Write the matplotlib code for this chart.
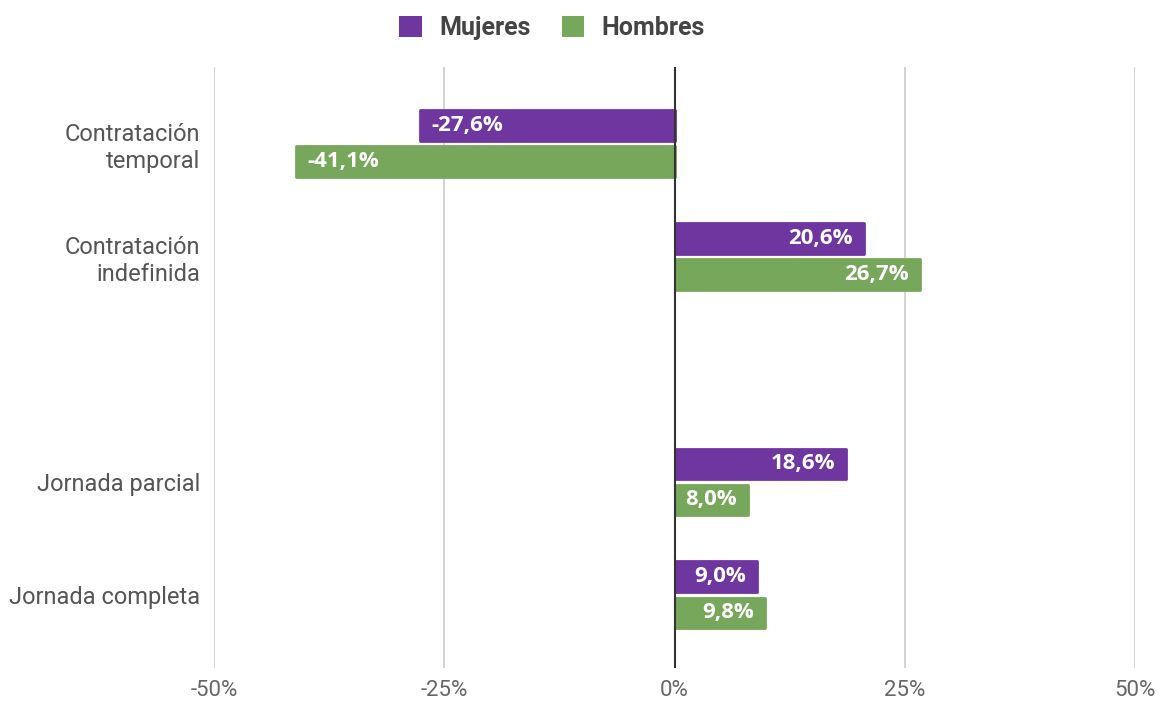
import matplotlib.pyplot as plt
from matplotlib.patches import Patch

# data
categorias = ['Contratación\ntemporal', 'Contratación\nindefinida', '', 'Jornada parcial', 'Jornada completa']
mujeres = [-27.6, 20.6, None, 18.6, 9.0]
hombres = [-41.1, 26.7, None, 8.0, 9.8]
ticks = [-50, -25, 0, 25, 50]

c_muj = '#6f36a0'
c_hom = '#76a75a'

plt.rcParams['font.family'] = ['Roboto', 'DejaVu Sans']

fig = plt.figure(figsize=(11.62, 7.05), dpi=100)
ax = fig.add_axes([214 / 1162, 37 / 705, 921 / 1162, 601 / 705])

off = 0.16
h = 0.27
for i, (m, hv) in enumerate(zip(mujeres, hombres)):
    if m is None:
        continue
    for val, col, y in [(m, c_muj, i - off), (hv, c_hom, i + off)]:
        ax.barh(y, val, height=h, color=col, edgecolor=col, linewidth=2,
                joinstyle='round', zorder=3)
        txt = f'{val:.1f}%'.replace('.', ',')
        if val < 0:
            ax.annotate(txt, (val, y), xytext=(8, 0), textcoords='offset points',
                        ha='left', va='center', color='white', fontsize=16,
                        fontweight='bold', family=['Open Sans', 'DejaVu Sans'], zorder=4)
        else:
            ax.annotate(txt, (val, y), xytext=(-8, 0), textcoords='offset points',
                        ha='right', va='center', color='white', fontsize=16,
                        fontweight='bold', family=['Open Sans', 'DejaVu Sans'], zorder=4)

ax.set_xlim(-50, 50)
ax.set_ylim(4.65, -0.68)
ax.set_xticks(ticks)
ax.set_xticklabels([f'{t}%' for t in ticks], color='#666666', fontsize=16)
ax.set_yticks(range(len(categorias)))
ax.set_yticklabels(categorias, color='#555555', fontsize=17, ha='right', linespacing=1.2)
ax.tick_params(axis='both', length=0)
ax.tick_params(axis='y', pad=10)
ax.tick_params(axis='x', pad=9)

for t in ticks:
    if t != 0:
        ax.axvline(t, color='#cccccc', linewidth=1.2, zorder=1)
ax.axvline(0, color='#333333', linewidth=1.5, zorder=5)

for s in ax.spines.values():
    s.set_visible(False)

handles = [Patch(facecolor=c_muj, label='Mujeres'), Patch(facecolor=c_hom, label='Hombres')]
fig.legend(handles=handles, loc='center', bbox_to_anchor=(552 / 1162, 1 - 28 / 705),
           ncol=2, frameon=False, handlelength=0.9, handleheight=0.9,
           columnspacing=1.25, handletextpad=0.7,
           prop={'size': 18, 'weight': 'bold'}, labelcolor='#444444')

fig.savefig('out.png', dpi=100)
